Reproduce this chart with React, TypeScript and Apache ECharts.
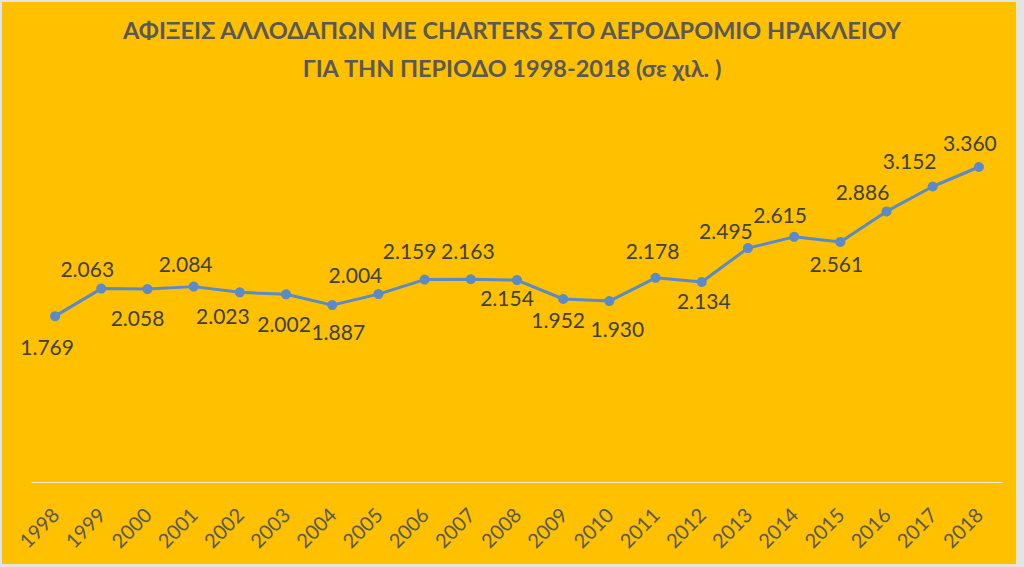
import React, { useEffect, useRef } from "react";
import * as echarts from "echarts";

const years = ["1998","1999","2000","2001","2002","2003","2004","2005","2006","2007","2008","2009","2010","2011","2012","2013","2014","2015","2016","2017","2018"];
const arrivals = [1769,2063,2058,2084,2023,2002,1887,2004,2159,2163,2154,1952,1930,2178,2134,2495,2615,2561,2886,3152,3360];
const titleText = "ΑΦΙΞΕΙΣ ΑΛΛΟΔΑΠΩΝ ΜΕ CHARTERS ΣΤΟ ΑΕΡΟΔΡΟΜΙΟ ΗΡΑΚΛΕΙΟΥ\nΓΙΑ ΤΗΝ ΠΕΡΙΟΔΟ 1998-2018 (σε χιλ. )";

// label nudges (style only): [dx, dy] of each value label relative to its point
const labelNudge: [number, number][] = [
  [-8, 30], [-14, -20], [-10, 28], [-8, -23], [-17, 23], [-2, 29], [6, 26],
  [-23, -20], [-15, -29], [-3, -29], [-10, 17], [-5, 20], [8, 27], [-3, -27],
  [2, 19], [-22, -18], [-14, -22], [-4, 22], [-24, -20], [-23, -26], [-9, -25],
];

const fmt = (v: number) => {
  const s = String(Math.round(v));
  return s.length > 3 ? s.slice(0, s.length - 3) + "." + s.slice(s.length - 3) : s;
};

export default function App() {
  const ref = useRef<HTMLDivElement>(null);
  useEffect(() => {
    document.body.style.margin = "0";
    const chart = echarts.init(ref.current!, null, { renderer: "svg" });
    chart.setOption({
      animation: false,
      backgroundColor: "#e4e4e4",
      graphic: [
        { type: "rect", z: -10, silent: true, shape: { x: 2, y: 2, width: 1014, height: 562 }, style: { fill: "#FFC000" } },
      ],
      title: {
        text: titleText,
        left: "center",
        top: 6,
        textStyle: { fontFamily: "Lato", fontWeight: "bold", fontSize: 23.5, color: "#595959", lineHeight: 38 },
      },
      grid: { left: 32, right: 22, top: 107, bottom: 85 },
      xAxis: {
        type: "category",
        data: years,
        boundaryGap: true,
        axisLine: { lineStyle: { color: "#f5ecd0", width: 1.2 } },
        axisTick: { show: false },
        axisLabel: { interval: 0, rotate: 45, margin: 29, fontFamily: "Lato", fontSize: 20, color: "#595959" },
      },
      yAxis: {
        type: "value",
        min: 0,
        max: 4000,
        show: false,
        splitLine: { show: false },
      },
      series: [
        {
          type: "line",
          data: arrivals.map((v, i) => ({
            value: v,
            label: { position: "inside", offset: labelNudge[i] },
          })),
          symbol: "circle",
          symbolSize: 10,
          lineStyle: { color: "#5A8AC8", width: 3 },
          itemStyle: { color: "#5A8AC8" },
          label: {
            show: true,
            fontFamily: "Lato",
            fontSize: 21,
            color: "#404040",
            formatter: (p: any) => fmt(p.value),
          },
        },
      ],
    });
    return () => chart.dispose();
  }, []);
  return <div ref={ref} style={{ position: "fixed", left: 0, top: 0, width: 1024, height: 567 }} />;
}
